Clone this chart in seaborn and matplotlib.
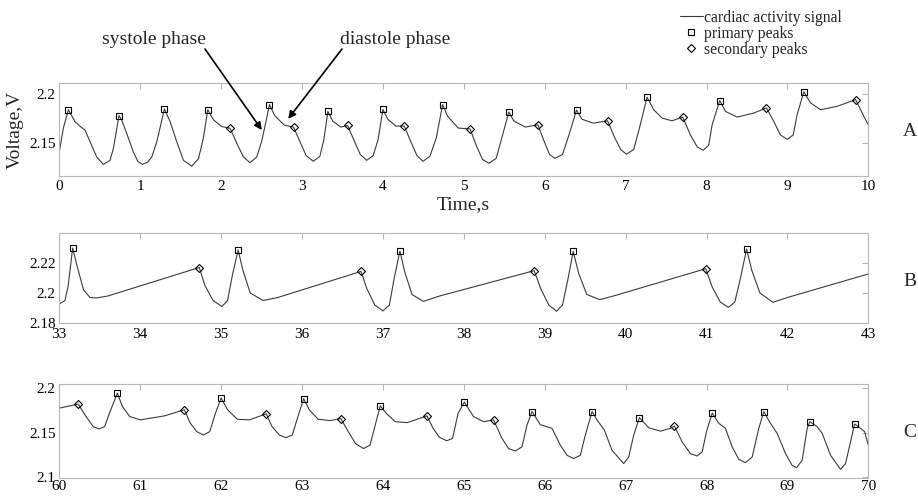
import numpy as np
import pandas as pd
import matplotlib
matplotlib.use("Agg")
import matplotlib.pyplot as plt
import seaborn as sns
from matplotlib.lines import Line2D

# ---------------- data: panel A (0-10 s) ----------------
A_t = [0.0, 0.05, 0.112, 0.194, 0.26, 0.318, 0.38, 0.462, 0.545, 0.627, 0.668, 0.738,
       0.77, 0.833, 0.915, 0.97, 1.027, 1.09, 1.143, 1.205, 1.299,
       1.369, 1.452, 1.534, 1.637, 1.72, 1.78, 1.835,
       1.905, 2.008, 2.111, 2.194, 2.276, 2.359, 2.44, 2.50, 2.54, 2.598,
       2.66, 2.78, 2.895, 2.97, 3.05, 3.14, 3.22, 3.27, 3.32,
       3.38, 3.48, 3.563, 3.64, 3.72, 3.80, 3.88, 3.94, 4.0,
       4.06, 4.16, 4.264, 4.34, 4.42, 4.495, 4.58, 4.66, 4.738,
       4.80, 4.93, 5.078, 5.15, 5.23, 5.31, 5.40, 5.47, 5.556,
       5.62, 5.76, 5.915, 5.99, 6.06, 6.125, 6.22, 6.30, 6.393,
       6.46, 6.60, 6.777, 6.86, 6.94, 7.01, 7.10, 7.18, 7.265,
       7.347, 7.45, 7.574, 7.706, 7.801, 7.884, 7.958, 8.027, 8.069, 8.163,
       8.234, 8.378, 8.584, 8.741, 8.831, 8.914, 8.997, 9.071, 9.12, 9.202,
       9.285, 9.409, 9.615, 9.843, 9.945, 10.0]
A_v = [2.1406, 2.1648, 2.1837, 2.1716, 2.1665, 2.1630, 2.1510, 2.1354, 2.1279, 2.1320, 2.1440, 2.1778,
       2.1734, 2.1596, 2.1406, 2.1310, 2.1279, 2.1300, 2.1354, 2.1510, 2.1845,
       2.1717, 2.1510, 2.1320, 2.1260, 2.1337, 2.1544, 2.1837,
       2.1734, 2.1665, 2.1648, 2.1493, 2.1354, 2.1296, 2.1354, 2.1510, 2.1660, 2.1890,
       2.1780, 2.1680, 2.1660, 2.1520, 2.1370, 2.1310, 2.1360, 2.1530, 2.1820,
       2.1720, 2.1660, 2.1676, 2.1530, 2.1380, 2.1320, 2.1370, 2.1530, 2.1840,
       2.1740, 2.1670, 2.1670, 2.1520, 2.1370, 2.1310, 2.1360, 2.1550, 2.1890,
       2.1770, 2.1650, 2.1640, 2.1480, 2.1330, 2.1290, 2.1340, 2.1550, 2.1814,
       2.1720, 2.1660, 2.1683, 2.1520, 2.1380, 2.1340, 2.1380, 2.1580, 2.1834,
       2.1740, 2.1700, 2.1724, 2.1560, 2.1430, 2.1383, 2.1430, 2.1680, 2.1965,
       2.1837, 2.1752, 2.1724, 2.1762, 2.1579, 2.1458, 2.1423, 2.1475, 2.1682, 2.1931,
       2.1820, 2.1762, 2.1803, 2.1855, 2.1717, 2.1579, 2.1534, 2.1579, 2.1786, 2.2020,
       2.1907, 2.1837, 2.1872, 2.1941, 2.1769, 2.1682]
A_prim_t = [0.112, 0.738, 1.299, 1.835, 2.598, 3.32, 4.0, 4.738, 5.556, 6.393, 7.265, 8.163, 9.202]
A_prim_v = [2.1837, 2.1778, 2.1845, 2.1837, 2.189, 2.182, 2.184, 2.189, 2.1814, 2.1834, 2.1965, 2.1931, 2.202]
A_sec_t = [2.111, 2.895, 3.563, 4.264, 5.078, 5.915, 6.777, 7.706, 8.741, 9.843]
A_sec_v = [2.1648, 2.166, 2.1676, 2.167, 2.164, 2.1683, 2.1724, 2.1762, 2.1855, 2.1941]

# ---------------- data: panel B (33-43 s) ----------------
B_t = [33.0, 33.07, 33.11, 33.165, 33.22, 33.30, 33.38, 33.46, 33.60, 34.73,
       34.80, 34.90, 35.01, 35.08, 35.14, 35.21, 35.27, 35.36, 35.52, 35.70, 36.73,
       36.80, 36.90, 37.0, 37.08, 37.14, 37.21, 37.27, 37.36, 37.50, 37.70, 38.87,
       38.95, 39.05, 39.146, 39.22, 39.29, 39.352, 39.42, 39.52, 39.68, 39.85, 40.99,
       41.07, 41.17, 41.27, 41.35, 41.42, 41.495, 41.56, 41.66, 41.82, 42.0, 43.0]
B_v = [2.1927, 2.1950, 2.2050, 2.2300, 2.2180, 2.2020, 2.1970, 2.1967, 2.1980, 2.2170,
       2.2050, 2.1950, 2.1910, 2.1950, 2.2120, 2.2287, 2.2150, 2.2000, 2.1950, 2.1970, 2.2144,
       2.2030, 2.1920, 2.1880, 2.1920, 2.2100, 2.2280, 2.2140, 2.1990, 2.1944, 2.1980, 2.2149,
       2.2030, 2.1920, 2.1878, 2.1920, 2.2100, 2.2278, 2.2130, 2.1990, 2.1956, 2.1980, 2.2162,
       2.2040, 2.1940, 2.1904, 2.1940, 2.2100, 2.2293, 2.2150, 2.2000, 2.1938, 2.1970, 2.2127]
B_prim_t = [33.165, 35.21, 37.21, 39.352, 41.495]
B_prim_v = [2.230, 2.2287, 2.228, 2.2278, 2.2293]
B_sec_t = [34.73, 36.73, 38.87, 40.99]
B_sec_v = [2.217, 2.2144, 2.2149, 2.2162]

# ---------------- data: panel C (60-70 s) ----------------
C_t = [60.0, 60.235, 60.33, 60.42, 60.49, 60.56, 60.62, 60.718,
       60.78, 60.87, 61.0, 61.3, 61.546, 61.62, 61.7, 61.78, 61.86, 61.93, 62.0,
       62.08, 62.2, 62.35, 62.557, 62.63, 62.72, 62.80, 62.88, 62.95, 63.02,
       63.09, 63.2, 63.35, 63.48, 63.56, 63.66, 63.76, 63.84, 63.9, 63.967,
       64.04, 64.15, 64.3, 64.544, 64.62, 64.7, 64.79, 64.86, 64.93, 65.006,
       65.12, 65.244, 65.368, 65.472, 65.554, 65.636, 65.719, 65.781, 65.843,
       65.946, 66.09, 66.193, 66.276, 66.357, 66.44, 66.502, 66.585,
       66.647, 66.737, 66.832, 66.976, 67.038, 67.1, 67.17,
       67.285, 67.43, 67.553, 67.603, 67.698, 67.8, 67.884, 67.946, 67.999, 68.07,
       68.151, 68.234, 68.317, 68.398, 68.481, 68.564, 68.646, 68.708,
       68.79, 68.873, 68.976, 69.058, 69.112, 69.182, 69.244, 69.277,
       69.368, 69.43, 69.533, 69.657, 69.718, 69.78, 69.83, 69.905, 69.954, 70.0]
C_v = [2.1774, 2.1819, 2.1680, 2.1566, 2.1540, 2.1566, 2.1717, 2.1943,
       2.1792, 2.1680, 2.1642, 2.1687, 2.1755, 2.1604, 2.1510, 2.1472, 2.1510, 2.1717, 2.1887,
       2.1755, 2.1649, 2.1642, 2.1710, 2.1566, 2.1472, 2.1442, 2.1472, 2.1680, 2.1880,
       2.1755, 2.1649, 2.1634, 2.1657, 2.1528, 2.1377, 2.1320, 2.1358, 2.1566, 2.1800,
       2.1717, 2.1623, 2.1611, 2.1687, 2.1547, 2.1445, 2.1408, 2.1434, 2.1717, 2.1841,
       2.1679, 2.1622, 2.1641, 2.1434, 2.1320, 2.1293, 2.1339, 2.1584, 2.1735,
       2.1588, 2.1547, 2.1358, 2.1245, 2.1207, 2.1245, 2.1471, 2.1735,
       2.1641, 2.1528, 2.1301, 2.1151, 2.1225, 2.1471, 2.1667,
       2.1554, 2.1516, 2.1547, 2.1573, 2.1395, 2.1264, 2.1237, 2.1282, 2.1509, 2.1717,
       2.1604, 2.1547, 2.1339, 2.1200, 2.1162, 2.1225, 2.1547, 2.1735,
       2.1604, 2.1490, 2.1264, 2.1131, 2.1105, 2.1188, 2.1547, 2.1622,
       2.1565, 2.1490, 2.1245, 2.1086, 2.1151, 2.1395, 2.1596, 2.1547, 2.1509, 2.1358]
C_prim_t = [60.718, 62.0, 63.02, 63.967, 65.006, 65.843, 66.585, 67.17, 68.07, 68.708, 69.277, 69.83]
C_prim_v = [2.1943, 2.1887, 2.188, 2.180, 2.1841, 2.1735, 2.1735, 2.1667, 2.1717, 2.1735, 2.1622, 2.1596]
C_sec_t = [60.235, 61.546, 62.557, 63.48, 64.544, 65.368, 67.603]
C_sec_v = [2.1819, 2.1755, 2.171, 2.1657, 2.1687, 2.1641, 2.1573]

# ticks / labels
A_xticks = list(range(0, 11))
B_xticks = list(range(33, 44))
C_xticks = list(range(60, 71))
A_yticks = [2.15, 2.2]
A_ylabels = ["2.15", "2.2"]
B_yticks = [2.18, 2.2, 2.22]
B_ylabels = ["2.18", "2.2", "2.22"]
C_yticks = [2.1, 2.15, 2.2]
C_ylabels = ["2.1", "2.15", "2.2"]
legend_labels = ["cardiac activity signal", "primary peaks", "secondary peaks"]

# ---------------- style ----------------
sns.set_theme(style="white")
plt.rcParams["font.family"] = ["Liberation Serif", "DejaVu Serif"]

SIG = "#3c3c3c"
GRID = "#b8b8b8"

fig = plt.figure(figsize=(9.18, 4.98), dpi=100)
axA = fig.add_axes([0.0646, 0.6466, 0.8813, 0.1867])
axB = fig.add_axes([0.0646, 0.3514, 0.8813, 0.1807])
axC = fig.add_axes([0.0646, 0.0402, 0.8813, 0.1888])


def draw(ax, t, v, pt, pv, st, sv, xlim, ylim, xticks, yticks, ylabels, xpad):
    sns.lineplot(x=t, y=v, ax=ax, color=SIG, lw=0.8, estimator=None, sort=False)
    sns.lineplot(x=pt, y=pv, ax=ax, marker="s", linestyle="none", markersize=4,
                 markerfacecolor="none", markeredgecolor="black", markeredgewidth=0.8,
                 estimator=None, color="black")
    sns.lineplot(x=st, y=sv, ax=ax, marker="D", linestyle="none", markersize=4,
                 markerfacecolor="none", markeredgecolor="black", markeredgewidth=0.8,
                 estimator=None, color="black")
    ax.set_xlim(*xlim)
    ax.set_ylim(*ylim)
    ax.set_xticks(xticks)
    ax.set_xticklabels([str(x) for x in xticks])
    ax.set_yticks(yticks)
    ax.set_yticklabels(ylabels)
    ax.set_xlabel("")
    ax.set_ylabel("")
    ax.tick_params(direction="in", length=4, width=0.8, color=GRID, top=True, right=True,
                   labelsize=11, labelcolor="black")
    ax.tick_params(axis="x", pad=xpad)
    ax.tick_params(axis="y", pad=2.5)
    for s in ax.spines.values():
        s.set_color(GRID)
        s.set_linewidth(0.8)
        s.set_visible(True)


draw(axA, A_t, A_v, A_prim_t, A_prim_v, A_sec_t, A_sec_v, (0, 10), (2.116, 2.211),
     A_xticks, A_yticks, A_ylabels, 3)
draw(axB, B_t, B_v, B_prim_t, B_prim_v, B_sec_t, B_sec_v, (33, 43), (2.18, 2.24),
     B_xticks, B_yticks, B_ylabels, 3.5)
draw(axC, C_t, C_v, C_prim_t, C_prim_v, C_sec_t, C_sec_v, (60, 70), (2.099, 2.2045),
     C_xticks, C_yticks, C_ylabels, 1.8)

# axis labels and panel letters
fig.text(15 / 918, 1 - 130 / 498, "Voltage,V", rotation=90, ha="center", va="center", fontsize=14)
fig.text(463.5 / 918, 1 - 204.5 / 498, "Time,s", ha="center", va="center", fontsize=14)
fig.text(909.5 / 918, 1 - 132 / 498, "A", ha="center", va="center", fontsize=14)
fig.text(909.5 / 918, 1 - 281 / 498, "B", ha="center", va="center", fontsize=14)
fig.text(909.5 / 918, 1 - 432 / 498, "C", ha="center", va="center", fontsize=14)

# annotations
fig.text(154 / 918, 1 - 39 / 498, "systole phase", ha="center", va="center", fontsize=14)
fig.text(395 / 918, 1 - 39 / 498, "diastole phase", ha="center", va="center", fontsize=14)
arrow = dict(arrowstyle="-|>", lw=1.2, color="black", mutation_scale=11, shrinkA=0, shrinkB=0)
axA.annotate("", xy=(2.503, 2.163), xycoords="data", xytext=(205 / 918, 1 - 49 / 498),
             textcoords="figure fraction", arrowprops=arrow, annotation_clip=False)
axA.annotate("", xy=(2.829, 2.1744), xycoords="data", xytext=(342 / 918, 1 - 49 / 498),
             textcoords="figure fraction", arrowprops=arrow, annotation_clip=False)

# legend
handles = [Line2D([], [], color=SIG, lw=0.8),
           Line2D([], [], marker="s", ls="none", mfc="none", mec="black", ms=4, mew=0.8),
           Line2D([], [], marker="D", ls="none", mfc="none", mec="black", ms=4, mew=0.8)]
fig.legend(handles, legend_labels, loc="upper left", bbox_to_anchor=(680 / 918, 1 - 9.5 / 498),
           frameon=False, fontsize=11.3, handlelength=1.45, handletextpad=0.1,
           labelspacing=0.0, borderpad=0, borderaxespad=0)

fig.savefig("out.png", dpi=100)
